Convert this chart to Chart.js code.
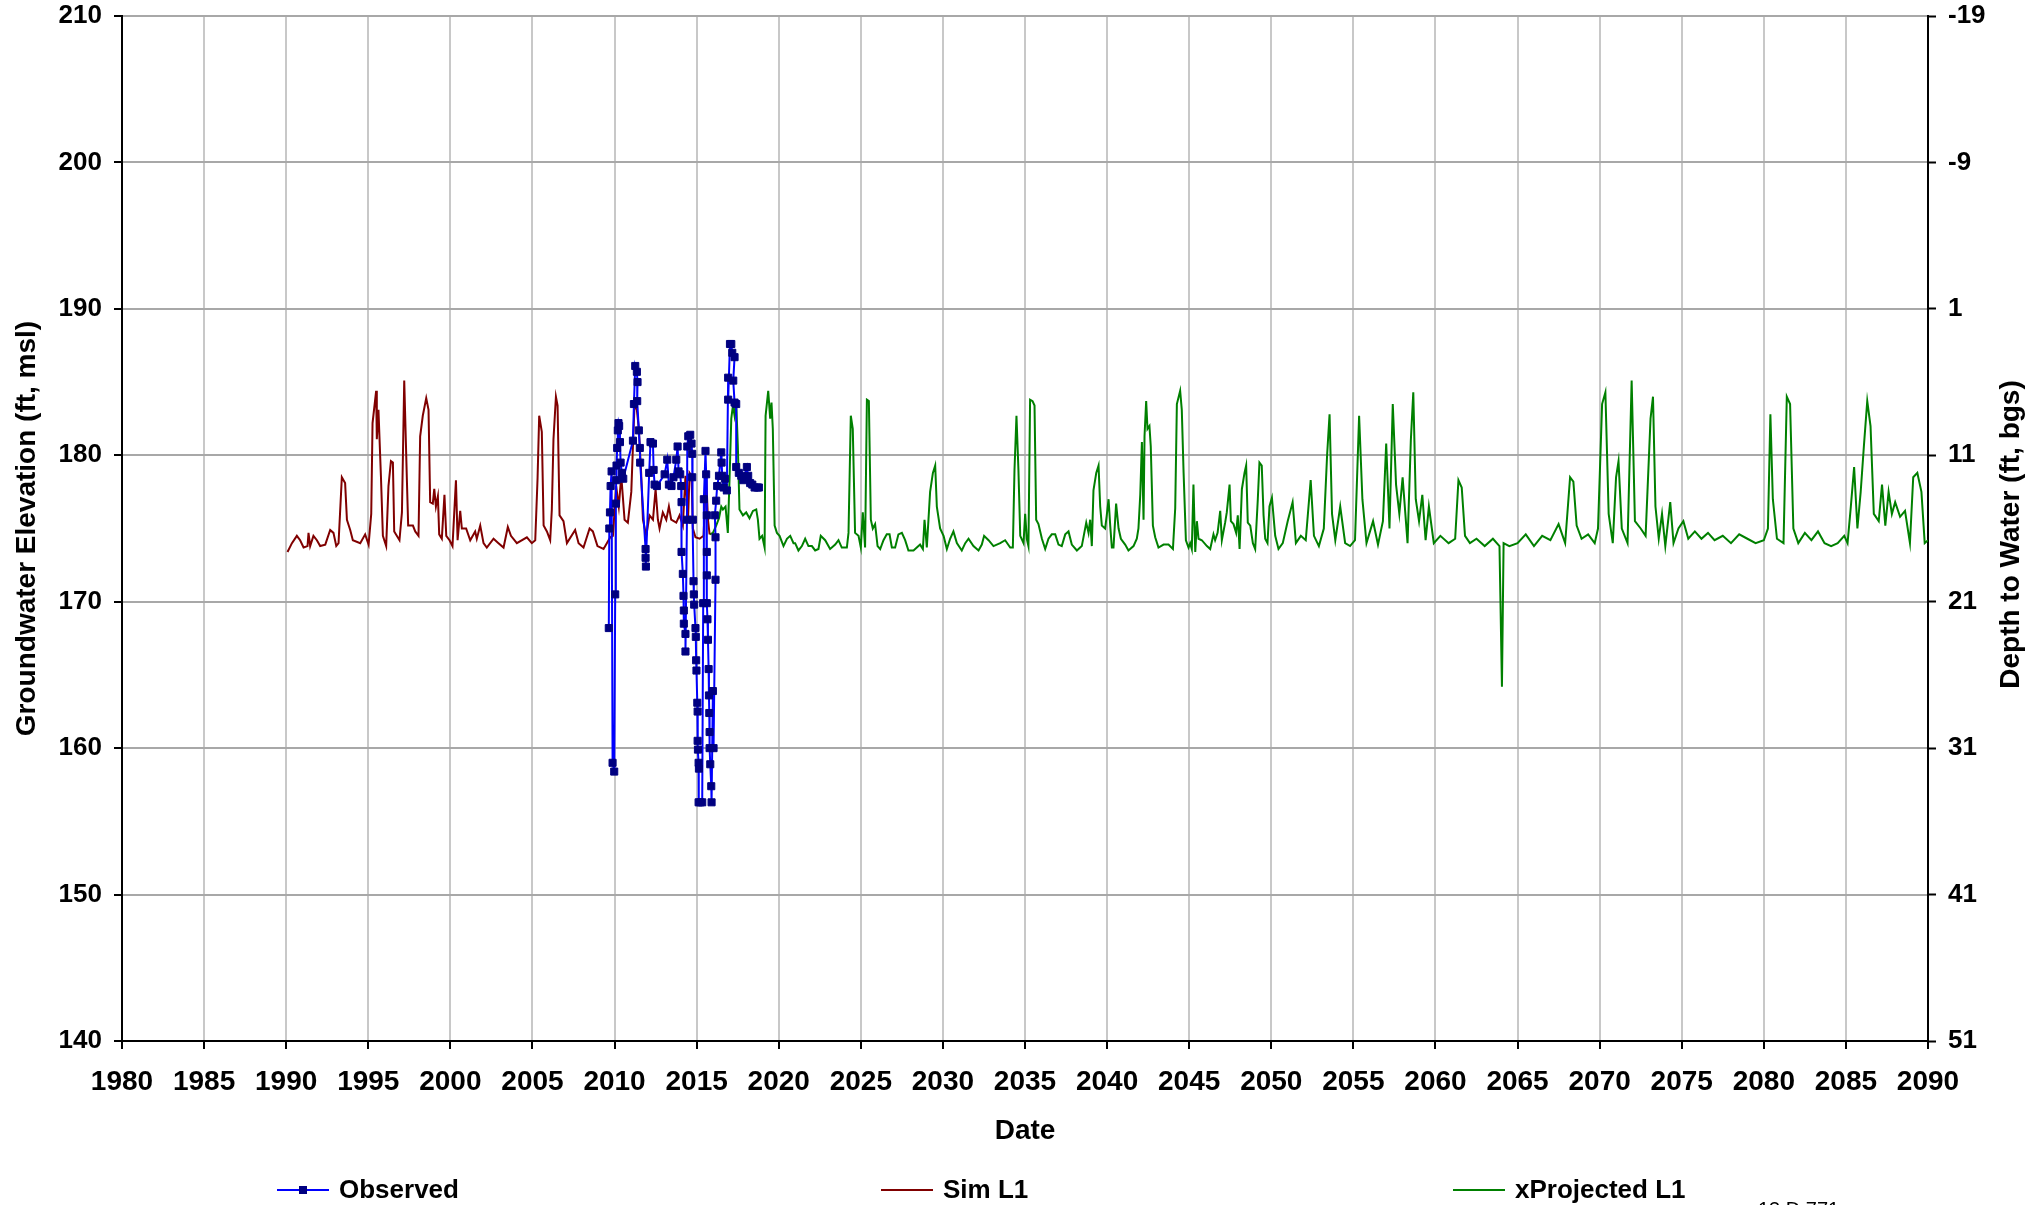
<!doctype html>
<html>
  <head>
    <title>groundwater hydrograph</title>
    <meta charset="UTF-8">
    <script src="https://cdn.jsdelivr.net/npm/chart.js"></script>
    <style>
      html, body { margin: 0; padding: 0; background: #fff; }
      canvas { display: block; }
    </style>
  </head>
  <body>
    <canvas id="hydrograph" width="2031" height="1205"></canvas>
    <script>
      const seriesNames = ['Observed', 'Sim L1', 'xProjected L1'];
      const depthTicks = [-19, -9, 1, 11, 21, 31, 41, 51];

      const obsYears = [
        2009.65, 2009.68, 2009.72, 2009.76, 2009.82, 2009.88, 2009.98, 2010.04, 2010.08, 2010.10,
        2010.12, 2010.16, 2010.20, 2010.24, 2010.28, 2010.33, 2010.37, 2010.45, 2010.53, 2011.12,
        2011.18, 2011.26, 2011.36, 2011.40, 2011.38, 2011.48, 2011.54, 2011.56, 2011.89, 2011.89,
        2011.91, 2012.11, 2012.19, 2012.34, 2012.38, 2012.44, 2012.58, 2013.05, 2013.21, 2013.31,
        2013.47, 2013.59, 2013.76, 2013.84, 2013.90, 2014.00, 2014.06, 2014.08, 2014.08, 2014.16,
        2014.20, 2014.22, 2014.22, 2014.32, 2014.32, 2014.41, 2014.43, 2014.49, 2014.61, 2014.69,
        2014.73, 2014.73, 2014.77, 2014.81, 2014.83, 2014.85, 2014.93, 2014.95, 2014.97, 2014.99,
        2015.04, 2015.06, 2015.06, 2015.08, 2015.12, 2015.14, 2015.12, 2015.22, 2015.34, 2015.40,
        2015.44, 2015.54, 2015.58, 2015.62, 2015.62, 2015.62, 2015.62, 2015.66, 2015.69, 2015.73,
        2015.75, 2015.77, 2015.79, 2015.79, 2015.83, 2015.89, 2015.91, 2015.99, 2016.03, 2016.15,
        2016.15, 2016.11, 2016.19, 2016.25, 2016.36, 2016.50, 2016.52, 2016.56, 2016.64, 2016.72,
        2016.84, 2016.92, 2016.92, 2017.03, 2017.11, 2017.17, 2017.31, 2017.23, 2017.31, 2017.41,
        2017.41, 2017.57, 2017.72, 2017.84, 2018.06, 2018.14, 2018.26, 2018.39, 2018.53, 2018.69,
        2018.79
      ];
      const obsLevels = [
        168.2, 175.0, 176.1, 177.9, 178.9, 159.0, 158.4, 170.5, 176.7, 178.3,
        179.3, 180.5, 181.7, 182.2, 182.0, 180.9, 179.5, 178.8, 178.4, 181.0,
        183.5, 186.1, 185.7, 185.0, 183.7, 181.7, 180.5, 179.5, 173.6, 173.0,
        172.4, 178.8, 180.9, 180.8, 179.0, 178.0, 177.9, 178.7, 179.7, 178.0,
        177.9, 178.5, 179.7, 180.6, 178.9, 178.7, 177.9, 176.8, 173.4, 171.9,
        170.4, 169.4, 168.5, 167.8, 166.6, 175.6, 180.6, 181.3, 181.4, 180.8,
        180.1, 178.5, 175.6, 171.4, 170.5, 169.8, 168.2, 167.6, 166.0, 165.3,
        163.1, 162.5, 160.5, 159.9, 159.0, 158.6, 156.3, 156.3, 156.3, 169.9,
        177.0, 180.3, 178.7, 175.9, 173.4, 171.8, 169.9, 168.8, 167.4, 165.4,
        163.6, 162.4, 161.1, 160.0, 158.9, 157.4, 156.3, 163.9, 160.0, 171.5,
        174.4, 175.9, 176.9, 177.9, 178.6, 180.2, 179.5, 178.6, 177.8, 178.4,
        177.6, 185.3, 183.8, 187.6, 187.6, 187.0, 186.7, 185.1, 183.6, 183.5,
        179.2, 178.8, 178.6, 178.3, 179.2, 178.6, 178.1, 178.0, 177.8, 177.8,
        177.8
      ];

      const simYears = [
        1990.08, 1990.35, 1990.65, 1990.85, 1991.06, 1991.30, 1991.36, 1991.46, 1991.66, 1991.87,
        1992.07, 1992.38, 1992.68, 1992.88, 1993.05, 1993.19, 1993.39, 1993.59, 1993.70, 1993.90,
        1994.06, 1994.51, 1994.81, 1995.02, 1995.18, 1995.26, 1995.48, 1995.52, 1995.62, 1995.77,
        1995.89, 1996.09, 1996.23, 1996.38, 1996.50, 1996.58, 1996.90, 1997.05, 1997.19, 1997.35,
        1997.43, 1997.72, 1997.86, 1998.06, 1998.16, 1998.32, 1998.53, 1998.67, 1998.77, 1998.93,
        1999.02, 1999.12, 1999.24, 1999.32, 1999.48, 1999.64, 1999.75, 1999.95, 2000.13, 2000.34,
        2000.44, 2000.60, 2000.70, 2000.96, 2001.21, 2001.51, 2001.61, 2001.82, 2002.02, 2002.22,
        2002.63, 2002.93, 2003.24, 2003.50, 2003.69, 2004.05, 2004.66, 2004.96, 2005.17, 2005.31,
        2005.41, 2005.57, 2005.68, 2005.88, 2006.08, 2006.18, 2006.28, 2006.43, 2006.53, 2006.65,
        2006.89, 2007.10, 2007.60, 2007.81, 2008.11, 2008.48, 2008.68, 2008.96, 2009.33, 2009.74,
        2009.90, 2010.10, 2010.26, 2010.41, 2010.61, 2010.81, 2011.02, 2011.12, 2011.22, 2011.36,
        2011.48, 2011.62, 2011.73, 2011.93, 2012.13, 2012.34, 2012.50, 2012.64, 2012.74, 2012.94,
        2013.15, 2013.31, 2013.45, 2013.76, 2013.96, 2014.16, 2014.32, 2014.47, 2014.57, 2014.69,
        2014.77, 2014.93, 2015.18, 2015.42, 2015.58, 2015.69, 2015.79
      ];
      const simLevels = [
        173.4, 174.0, 174.5, 174.2, 173.7, 173.8, 174.7, 173.8, 174.5, 174.2,
        173.8, 173.9, 174.9, 174.7, 173.8, 174.0, 178.5, 178.1, 175.6, 174.9,
        174.2, 174.0, 174.6, 173.9, 176.0, 182.2, 184.4, 181.1, 183.1, 178.6,
        174.5, 173.8, 177.9, 179.6, 179.5, 174.8, 174.2, 176.1, 185.1, 178.4,
        175.2, 175.2, 174.8, 174.5, 181.3, 182.7, 183.9, 183.1, 176.8, 176.7,
        177.7, 176.5, 177.2, 174.6, 174.3, 177.3, 174.5, 174.2, 173.8, 178.3,
        174.2, 176.2, 175.0, 175.0, 174.2, 174.8, 174.3, 175.2, 174.0, 173.7,
        174.3, 174.0, 173.7, 175.1, 174.5, 174.0, 174.4, 174.0, 174.2, 178.4,
        182.7, 181.6, 175.2, 174.8, 174.2, 176.3, 181.1, 184.0, 183.4, 175.9,
        175.5, 174.0, 174.9, 174.0, 173.7, 175.0, 174.8, 173.8, 173.6, 174.4,
        174.5, 177.9, 176.5, 178.6, 175.6, 175.4, 177.5, 180.6, 183.5, 183.1,
        181.8, 178.8, 175.6, 174.5, 175.9, 175.6, 177.7, 175.6, 175.0, 176.1,
        175.6, 176.5, 175.6, 175.4, 175.9, 175.2, 178.6, 175.4, 178.8, 178.6,
        175.0, 174.4, 174.3, 174.5, 178.6, 175.6, 174.6
      ];

      const projYears = [
        2015.79, 2015.99, 2016.19, 2016.36, 2016.50, 2016.60, 2016.76, 2016.90, 2017.01, 2017.11,
        2017.21, 2017.31, 2017.41, 2017.51, 2017.61, 2017.82, 2018.02, 2018.22, 2018.43, 2018.63,
        2018.73, 2018.83, 2018.99, 2019.14, 2019.20, 2019.36, 2019.48, 2019.56, 2019.64, 2019.75,
        2019.89, 2020.05, 2020.29, 2020.50, 2020.70, 2020.90, 2021.00, 2021.20, 2021.41, 2021.61,
        2021.81, 2022.02, 2022.22, 2022.42, 2022.56, 2022.83, 2023.13, 2023.44, 2023.64, 2023.84,
        2024.15, 2024.25, 2024.39, 2024.51, 2024.65, 2024.86, 2025.00, 2025.12, 2025.26, 2025.37,
        2025.49, 2025.61, 2025.73, 2025.87, 2026.02, 2026.18, 2026.38, 2026.58, 2026.75, 2026.89,
        2027.09, 2027.29, 2027.50, 2027.70, 2027.90, 2028.21, 2028.41, 2028.61, 2028.78, 2028.88,
        2029.02, 2029.22, 2029.39, 2029.53, 2029.63, 2029.83, 2030.04, 2030.24, 2030.44, 2030.64,
        2030.85, 2031.15, 2031.36, 2031.56, 2031.86, 2032.17, 2032.37, 2032.51, 2032.78, 2033.08,
        2033.49, 2033.79, 2034.10, 2034.26, 2034.36, 2034.48, 2034.60, 2034.71, 2034.91, 2035.01,
        2035.11, 2035.21, 2035.31, 2035.46, 2035.58, 2035.68, 2035.82, 2036.03, 2036.23, 2036.43,
        2036.63, 2036.84, 2037.04, 2037.24, 2037.45, 2037.65, 2037.85, 2038.16, 2038.46, 2038.73,
        2038.87, 2038.97, 2039.07, 2039.17, 2039.34, 2039.48, 2039.58, 2039.68, 2039.88, 2039.98,
        2040.09, 2040.19, 2040.29, 2040.39, 2040.55, 2040.70, 2040.84, 2041.10, 2041.30, 2041.61,
        2041.81, 2041.91, 2042.02, 2042.12, 2042.22, 2042.28, 2042.38, 2042.46, 2042.58, 2042.66,
        2042.79, 2042.93, 2043.13, 2043.44, 2043.74, 2044.01, 2044.15, 2044.25, 2044.45, 2044.55,
        2044.66, 2044.80, 2044.96, 2045.06, 2045.16, 2045.26, 2045.37, 2045.47, 2045.57, 2045.77,
        2046.08, 2046.28, 2046.48, 2046.58, 2046.73, 2046.89, 2046.99, 2047.19, 2047.29, 2047.46,
        2047.54, 2047.70, 2047.86, 2047.96, 2048.07, 2048.21, 2048.37, 2048.47, 2048.57, 2048.72,
        2048.88, 2049.02, 2049.18, 2049.28, 2049.42, 2049.53, 2049.63, 2049.77, 2049.89, 2050.04,
        2050.24, 2050.44, 2050.70, 2051.00, 2051.30, 2051.50, 2051.80, 2052.10, 2052.40, 2052.60,
        2052.90, 2053.20, 2053.40, 2053.55, 2053.70, 2053.90, 2054.20, 2054.50, 2054.80, 2055.10,
        2055.35, 2055.55, 2055.80, 2056.20, 2056.50, 2056.80, 2057.00, 2057.20, 2057.40, 2057.60,
        2057.80, 2058.00, 2058.30, 2058.50, 2058.65, 2058.80, 2059.00, 2059.20, 2059.40, 2059.60,
        2059.90, 2060.30, 2060.80, 2061.20, 2061.40, 2061.60, 2061.80, 2062.10, 2062.50, 2063.00,
        2063.50, 2063.90, 2064.05, 2064.15, 2064.50, 2065.00, 2065.50, 2066.00, 2066.50, 2067.00,
        2067.50, 2067.90, 2068.20, 2068.40, 2068.60, 2068.90, 2069.30, 2069.70, 2069.90, 2070.15,
        2070.35, 2070.55, 2070.80, 2071.00, 2071.15, 2071.35, 2071.70, 2071.95, 2072.15, 2072.50,
        2072.80, 2073.10, 2073.25, 2073.40, 2073.60, 2073.80, 2074.00, 2074.30, 2074.50, 2074.80,
        2075.10, 2075.40, 2075.80, 2076.20, 2076.60, 2077.00, 2077.50, 2078.00, 2078.50, 2079.00,
        2079.50, 2080.00, 2080.25, 2080.40, 2080.55, 2080.80, 2081.20, 2081.40, 2081.60, 2081.80,
        2082.10, 2082.50, 2082.90, 2083.30, 2083.70, 2084.10, 2084.50, 2084.90, 2085.10, 2085.30,
        2085.50, 2085.70, 2085.90, 2086.10, 2086.30, 2086.50, 2086.70, 2087.00, 2087.20, 2087.40,
        2087.60, 2087.80, 2088.00, 2088.30, 2088.60, 2088.90, 2089.10, 2089.35, 2089.60, 2089.80,
        2090.00
      ];
      const projLevels = [
        174.6, 174.7, 175.2, 175.7, 176.5, 176.3, 176.5, 174.7, 178.6, 182.5,
        183.4, 182.7, 183.6, 180.6, 176.3, 175.9, 176.1, 175.7, 176.2, 176.3,
        175.6, 174.3, 174.5, 173.7, 182.7, 184.4, 182.5, 183.6, 181.8, 175.2,
        174.7, 174.5, 173.8, 174.3, 174.5, 174.0, 174.0, 173.5, 173.8, 174.3,
        173.8, 173.8, 173.5, 173.6, 174.5, 174.2, 173.6, 173.9, 174.2, 173.7,
        173.7, 174.7, 182.7, 181.8, 174.7, 174.5, 173.7, 176.1, 173.7, 183.8,
        183.7, 175.6, 175.0, 175.3, 173.8, 173.6, 174.2, 174.6, 174.6, 173.7,
        173.7, 174.6, 174.7, 174.2, 173.5, 173.5, 173.7, 173.9, 173.6, 175.6,
        173.7, 177.5, 178.8, 179.3, 176.5, 175.0, 174.5, 173.6, 174.3, 174.8,
        174.0, 173.5, 174.0, 174.3, 173.8, 173.5, 173.9, 174.5, 174.2, 173.8,
        174.0, 174.2, 173.7, 173.7, 179.0, 182.7, 179.0, 174.5, 174.0, 176.0,
        174.3, 173.8, 183.8, 183.7, 183.4, 175.6, 175.3, 174.3, 173.6, 174.3,
        174.6, 174.6, 173.9, 173.8, 174.6, 174.8, 173.9, 173.5, 173.8, 175.4,
        174.7, 175.6, 173.8, 177.6, 178.8, 179.3, 176.5, 175.2, 175.0, 175.9,
        177.0, 175.2, 173.7, 173.7, 176.7, 175.0, 174.3, 173.9, 173.5, 173.8,
        174.3, 175.0, 177.3, 180.9, 175.6, 181.3, 183.7, 181.8, 182.0, 180.6,
        175.2, 174.4, 173.7, 173.9, 173.9, 173.6, 176.4, 183.5, 184.4, 183.1,
        178.8, 174.2, 173.7, 174.0, 173.6, 178.0, 173.4, 175.5, 174.3, 174.2,
        173.8, 173.6, 174.6, 174.2, 174.7, 176.2, 174.2, 175.4, 176.1, 178.0,
        175.5, 175.3, 174.7, 175.9, 173.6, 177.7, 178.8, 179.3, 175.4, 175.2,
        174.0, 173.6, 177.0, 179.5, 179.3, 175.9, 174.3, 174.0, 176.5, 177.1,
        174.5, 173.6, 174.0, 175.5, 176.8, 174.0, 174.5, 174.2, 178.3, 174.5,
        173.8, 175.0, 180.0, 182.8, 176.0, 174.2, 176.5, 174.0, 173.8, 174.2,
        182.7, 177.0, 174.0, 175.5, 173.9, 175.5, 180.8, 175.0, 183.5, 178.0,
        176.0, 178.5, 174.0, 181.0, 184.3, 177.0, 175.5, 177.3, 174.2, 176.5,
        174.0, 174.5, 174.0, 174.3, 178.3, 177.8, 174.5, 174.0, 174.3, 173.8,
        174.3, 173.8, 164.2, 174.0, 173.8, 174.0, 174.6, 173.8, 174.5, 174.2,
        175.3, 174.0, 178.5, 178.2, 175.2, 174.3, 174.6, 174.0, 175.0, 183.5,
        184.3, 176.0, 174.0, 178.5, 179.6, 175.0, 174.0, 185.1, 175.5, 175.0,
        174.5, 182.5, 184.0, 176.5, 174.3, 176.0, 173.8, 176.8, 174.0, 175.0,
        175.5, 174.3, 174.8, 174.3, 174.7, 174.2, 174.5, 174.0, 174.6, 174.3,
        174.0, 174.2, 175.0, 182.8, 177.0, 174.3, 174.0, 184.0, 183.5, 175.0,
        174.0, 174.7, 174.2, 174.8, 174.0, 173.8, 174.0, 174.5, 174.0, 176.5,
        179.2, 175.0, 177.5, 180.7, 183.7, 182.0, 176.0, 175.5, 178.0, 175.2,
        177.5, 176.0, 176.8, 175.8, 176.2, 174.0, 178.5, 178.8, 177.5, 174.0,
        174.2
      ];

      const FONT = '"Liberation Sans", Arial, Helvetica, sans-serif';

      function toPoints(xs, ys) {
        return xs.map((x, i) => ({ x, y: ys[i] }));
      }

      // keep the plot edges where the reference has them
      function noLabelOverhang(s) {
        s.paddingTop = 0;
        s.paddingBottom = 0;
        s.paddingLeft = 0;
        s.paddingRight = 0;
      }

      const extras = {
        id: 'extras',
        afterDraw(chart) {
          const ctx = chart.ctx;
          const area = chart.chartArea;
          const y2 = chart.scales.y2;

          ctx.save();
          ctx.fillStyle = '#000';
          ctx.font = 'bold 28px ' + FONT;
          ctx.textAlign = 'center';
          ctx.textBaseline = 'middle';
          ctx.translate(y2.right - 20, (area.top + area.bottom) / 2 + 6);
          ctx.rotate(-Math.PI / 2);
          ctx.fillText('Depth to Water (ft, bgs)', 0, 0);
          ctx.restore();

          // legend row
          const items = [
            { x: 277, color: '#0000ff', marker: true },
            { x: 881, color: '#800000' },
            { x: 1453, color: '#008000' }
          ];
          const ly = 1190;
          ctx.save();
          ctx.font = 'bold 26px ' + FONT;
          ctx.textAlign = 'left';
          ctx.textBaseline = 'middle';
          items.forEach((item, i) => {
            ctx.strokeStyle = item.color;
            ctx.lineWidth = 2;
            ctx.beginPath();
            ctx.moveTo(item.x, ly);
            ctx.lineTo(item.x + 52, ly);
            ctx.stroke();
            if (item.marker) {
              ctx.fillStyle = '#000080';
              ctx.fillRect(item.x + 22, ly - 4, 8, 8);
            }
            ctx.fillStyle = '#000';
            ctx.fillText(seriesNames[i], item.x + 62, ly + 1);
          });
          ctx.font = '20px ' + FONT;
          ctx.textBaseline = 'top';
          ctx.fillText('13 D 771', 1758, 1200);
          ctx.restore();
        }
      };

      new Chart(document.getElementById('hydrograph'), {
        type: 'line',
        data: {
          datasets: [
            {
              label: seriesNames[0],
              data: toPoints(obsYears, obsLevels),
              borderColor: '#0000ff',
              borderWidth: 2,
              pointStyle: 'rect',
              pointRadius: 5,
              pointBackgroundColor: '#000080',
              pointBorderColor: '#000080',
              pointBorderWidth: 1,
              tension: 0
            },
            {
              label: seriesNames[1],
              data: toPoints(simYears, simLevels),
              borderColor: '#800000',
              borderWidth: 2,
              pointRadius: 0,
              tension: 0
            },
            {
              label: seriesNames[2],
              data: toPoints(projYears, projLevels),
              borderColor: '#008000',
              borderWidth: 2,
              pointRadius: 0,
              tension: 0
            }
          ]
        },
        options: {
          responsive: false,
          animation: false,
          events: [],
          layout: { padding: { top: 16, bottom: 57, left: 0, right: 0 } },
          plugins: {
            legend: { display: false },
            tooltip: { enabled: false }
          },
          scales: {
            x: {
              type: 'linear',
              min: 1980,
              max: 2090,
              afterFit(s) { s.height = 107; noLabelOverhang(s); },
              ticks: {
                stepSize: 5,
                padding: 16,
                color: '#000',
                font: { family: FONT, size: 28, weight: 'bold' },
                callback: v => String(v)
              },
              grid: { color: '#c8c8c8', lineWidth: 2, tickLength: 8, tickColor: '#000', tickWidth: 2 },
              border: { color: '#000', width: 2 },
              title: {
                display: true,
                text: 'Date',
                color: '#000',
                padding: { top: 0, bottom: 0 },
                font: { family: FONT, size: 28, weight: 'bold' }
              }
            },
            y: {
              position: 'left',
              min: 140,
              max: 210,
              afterFit(s) { s.width = 122; noLabelOverhang(s); },
              ticks: {
                stepSize: 10,
                padding: 12,
                color: '#000',
                font: { family: FONT, size: 26, weight: 'bold' }
              },
              grid: { color: '#a8a8a8', lineWidth: 2, tickLength: 8, tickColor: '#000', tickWidth: 2 },
              border: { color: '#000', width: 2 },
              title: {
                display: true,
                text: 'Groundwater Elevation (ft, msl)',
                color: '#000',
                padding: { top: 10, bottom: 0 },
                font: { family: FONT, size: 28, weight: 'bold' }
              }
            },
            y2: {
              position: 'right',
              min: -19,
              max: 51,
              reverse: true,
              afterFit(s) { s.width = 103; noLabelOverhang(s); },
              afterBuildTicks(s) { s.ticks = depthTicks.map(v => ({ value: v })); },
              ticks: {
                padding: 12,
                color: '#000',
                font: { family: FONT, size: 26, weight: 'bold' }
              },
              grid: { drawOnChartArea: false, tickLength: 8, tickColor: '#000', tickWidth: 2 },
              border: { color: '#000', width: 2 }
            }
          }
        },
        plugins: [extras]
      });
    </script>
  </body>
</html>
